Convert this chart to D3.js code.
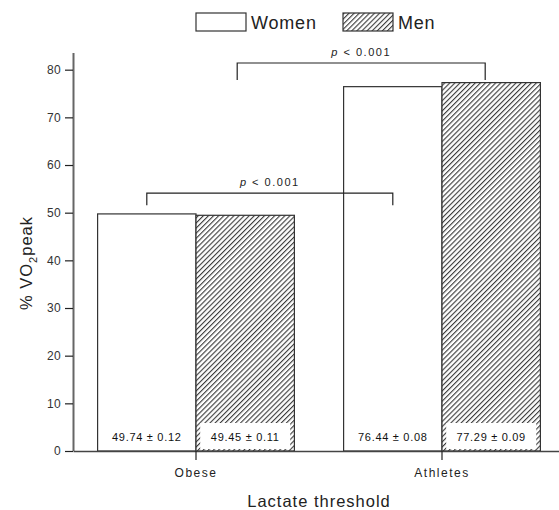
<!DOCTYPE html>
<html>
<head>
<meta charset="utf-8">
<script src="https://cdn.jsdelivr.net/npm/d3@7"></script>
<style>
  html, body { margin: 0; padding: 0; background: #fff; }
  svg { display: block; font-family: "Liberation Sans", Arial, sans-serif; }
</style>
</head>
<body>
<svg id="chart" width="559" height="510"></svg>
<script>
// Lactate threshold as % of peak VO2, by group and sex
const groups = ["Obese", "Athletes"];
const seriesNames = ["Women", "Men"];
const womenValues = [49.74, 76.44];
const menValues = [49.45, 77.29];
const womenSE = [0.12, 0.08];
const menSE = [0.11, 0.09];
const yTicks = [0, 10, 20, 30, 40, 50, 60, 70, 80];
// significance brackets: [group, series] at each end
const brackets = [
  { from: ["Obese", "Women"], to: ["Athletes", "Women"], label: "< 0.001", level: 54.1 },
  { from: ["Obese", "Men"], to: ["Athletes", "Men"], label: "< 0.001", level: 81.4 }
];

const svg = d3.select("#chart");

const x0 = d3.scaleBand().domain(groups).range([73, 565]).paddingInner(0.2).paddingOuter(0.1);
const x1 = d3.scaleBand().domain(seriesNames).range([0, x0.bandwidth()]);
const y = d3.scaleLinear().domain([0, 83.5]).range([451, 53]);

const defs = svg.append("defs");
const pat = defs.append("pattern")
  .attr("id", "hatch").attr("patternUnits", "userSpaceOnUse")
  .attr("width", 3.6).attr("height", 3.6)
  .attr("patternTransform", "rotate(45)");
pat.append("rect").attr("width", 3.6).attr("height", 3.6).attr("fill", "#fff");
pat.append("line").attr("x1", 0.6).attr("y1", 0).attr("x2", 0.6).attr("y2", 3.6)
  .attr("stroke", "#222").attr("stroke-width", 1);

const rows = groups.map((g, i) => ({
  group: g,
  bars: [
    { series: "Women", value: womenValues[i], se: womenSE[i] },
    { series: "Men", value: menValues[i], se: menSE[i] }
  ]
}));

// bars
const gGroups = svg.append("g").selectAll("g").data(rows).join("g")
  .attr("transform", d => `translate(${x0(d.group)},0)`);

gGroups.selectAll("rect.bar").data(d => d.bars).join("rect")
  .attr("class", "bar")
  .attr("x", d => x1(d.series))
  .attr("y", d => y(d.value))
  .attr("width", x1.bandwidth())
  .attr("height", d => y(0) - y(d.value))
  .attr("fill", d => d.series === "Men" ? "url(#hatch)" : "#fff")
  .attr("stroke", "#333").attr("stroke-width", 1.2);

// value labels at the bottom of each bar
gGroups.each(function (d) {
  const g = d3.select(this);
  d.bars.forEach(b => {
    const cx = x1(b.series) + x1.bandwidth() / 2;
    const txt = `${b.value.toFixed(2)} ± ${b.se.toFixed(2)}`;
    if (b.series === "Men") {
      g.append("rect")
        .attr("x", cx - 45).attr("y", y(0) - 28)
        .attr("width", 90).attr("height", 26)
        .attr("fill", "#fff");
    }
    g.append("text")
      .attr("x", cx).attr("y", y(0) - 10)
      .attr("text-anchor", "middle")
      .attr("font-size", 11).attr("fill", "#111")
      .attr("letter-spacing", 0.7)
      .text(txt);
  });
});

// y axis
const yAxis = svg.append("g").attr("transform", `translate(73,0)`)
  .call(d3.axisLeft(y).tickValues(yTicks).tickSize(8).tickPadding(4).tickSizeOuter(0));
yAxis.select(".domain").attr("stroke", "#666").attr("stroke-width", 2).attr("d", `M0.5,${y(0)}V53`);
yAxis.selectAll(".tick line").attr("stroke", "#222").attr("stroke-width", 1.2);
yAxis.selectAll(".tick text").attr("font-size", 12).attr("fill", "#333")
  .attr("font-family", "Liberation Sans, Arial, sans-serif").attr("letter-spacing", 0.3);

// x axis
const xAxis = svg.append("g").attr("transform", `translate(0,${y(0)})`)
  .call(d3.axisBottom(x0).tickSize(9).tickPadding(8).tickSizeOuter(0));
xAxis.select(".domain").attr("stroke", "#444").attr("stroke-width", 1.5);
xAxis.selectAll(".tick line").attr("stroke", "#222").attr("stroke-width", 1.2);
xAxis.selectAll(".tick text").attr("font-size", 12).attr("fill", "#222")
  .attr("font-family", "Liberation Sans, Arial, sans-serif").attr("letter-spacing", 1.5);

// axis titles
svg.append("text")
  .attr("x", (x0.range()[0] + x0.range()[1]) / 2).attr("y", 507)
  .attr("text-anchor", "middle").attr("font-size", 16.5).attr("fill", "#222")
  .attr("letter-spacing", 1)
  .text("Lactate threshold");

const yt = svg.append("text")
  .attr("transform", `translate(32,263) rotate(-90)`)
  .attr("text-anchor", "middle").attr("font-size", 16.5).attr("fill", "#222")
  .attr("letter-spacing", 1);
yt.append("tspan").text("% VO");
yt.append("tspan").attr("font-size", 11).attr("dy", 5).text("2");
yt.append("tspan").attr("dy", -5).text("peak");

// significance brackets
const bx = (pair) => x0(pair[0]) + x1(pair[1]) + x1.bandwidth() / 2;
brackets.forEach((b, i) => {
  const xa = bx(b.from) - (i === 1 ? 8 : 0);
  const xb = bx(b.to) - (i === 1 ? 6 : 0);
  const yb = y(b.level);
  const leg = i === 1 ? 17 : 12;
  svg.append("path")
    .attr("d", `M${xa},${yb + leg}V${yb}H${xb}V${yb + leg}`)
    .attr("fill", "none").attr("stroke", "#222").attr("stroke-width", 1.2);
  const t = svg.append("text")
    .attr("x", (xa + xb) / 2).attr("y", yb - 7)
    .attr("text-anchor", "middle").attr("font-size", 11).attr("fill", "#222")
    .attr("letter-spacing", 1.5);
  t.append("tspan").attr("font-style", "italic").text("p");
  t.append("tspan").text(" " + b.label);
});

// legend
const legend = svg.append("g");
const legendX = [196, 343];
seriesNames.forEach((s, i) => {
  legend.append("rect")
    .attr("x", legendX[i]).attr("y", 13).attr("width", 50).attr("height", 18)
    .attr("fill", s === "Men" ? "url(#hatch)" : "#fff")
    .attr("stroke", "#333").attr("stroke-width", 1.2);
  legend.append("text")
    .attr("x", legendX[i] + 55).attr("y", 29)
    .attr("font-size", 18).attr("fill", "#222")
    .attr("letter-spacing", 0.8)
    .text(s);
});
</script>
</body>
</html>
